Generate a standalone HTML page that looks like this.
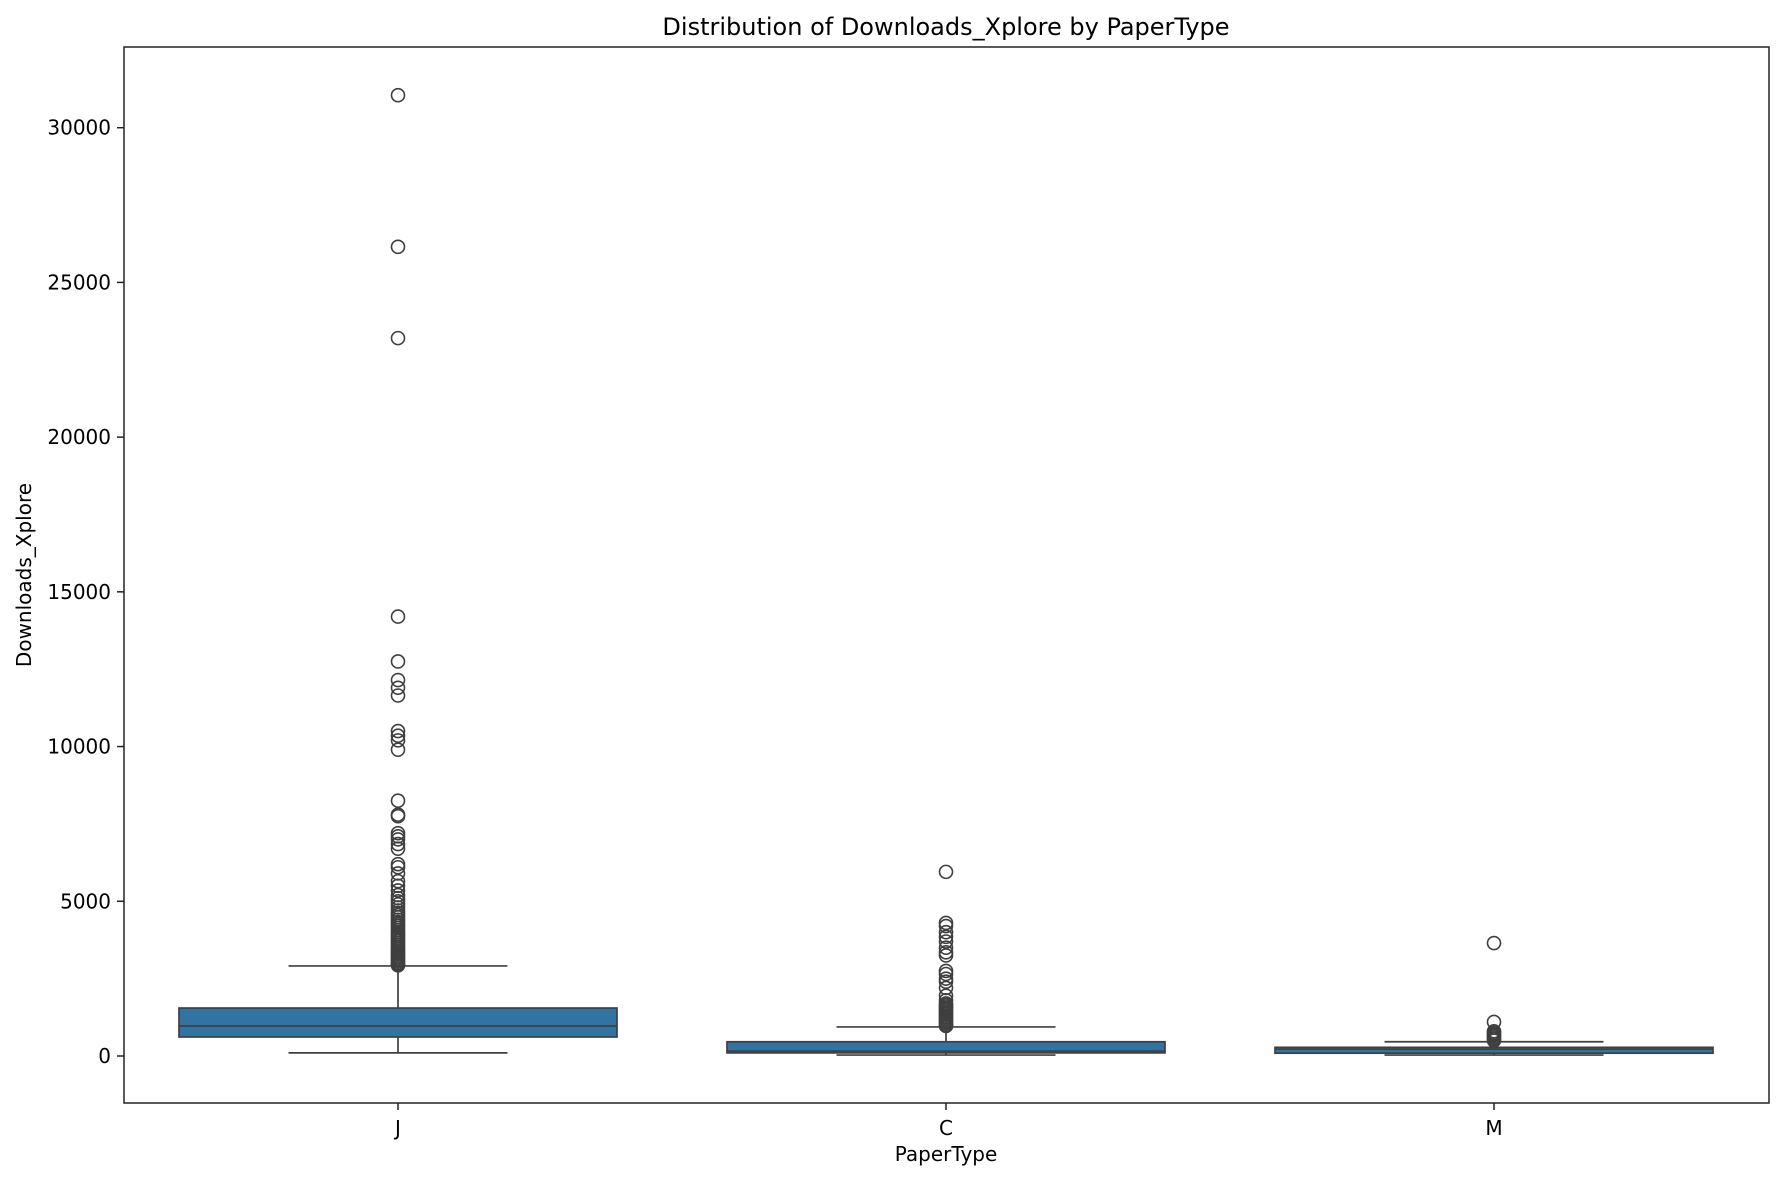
<!DOCTYPE html>
<html><head><meta charset="utf-8"><style>
body{margin:0;background:#fff}
svg text{font-family:"DejaVu Sans","Liberation Sans",sans-serif;fill:#000}
</style></head><body>
<svg id="chart" width="1785" height="1181" xmlns="http://www.w3.org/2000/svg">
<rect width="1785" height="1181" fill="#fff"/>
<text x="946" y="35" font-size="24" text-anchor="middle">Distribution of Downloads_Xplore by PaperType</text>
<text x="946" y="1161" font-size="20" text-anchor="middle">PaperType</text>
<text transform="translate(31,575) rotate(-90)" font-size="20" text-anchor="middle">Downloads_Xplore</text>
<g id="plot"></g>
<rect x="124" y="47" width="1645" height="1056" fill="none" stroke="#222" stroke-width="1.5"/>
</svg>
<script>
const categories=["J","C","M"];
const q1=[614,100,90];
const medians=[970,160,220];
const q3=[1550,460,280];
const whiskLow=[100,30,30];
const whiskHigh=[2910,940,460];
const outliersJ=[31050,26150,23200,14200,12750,12150,11900,11650,10500,10350,10200,9900,8250,7800,7750,7200,7100,7000,6850,6700,6200,6100,5900,5650,5500,5350,5200,5100,5000,4900,4800,4700,4620,4550,4480,4400,4330,4260,4200,4130,4060,4000,3940,3880,3820,3760,3700,3640,3580,3520,3460,3400,3350,3300,3250,3200,3150,3100,3050,3000,2960,2930];
const outliersC=[5950,4300,4200,4000,3850,3700,3500,3350,3250,2750,2650,2500,2400,2200,1950,1800,1700,1650,1600,1550,1500,1450,1400,1350,1300,1250,1200,1150,1100,1050,1000,970];
const outliersM=[3650,1100,800,750,700,650,600,550,500];
const outliers=[outliersJ,outliersC,outliersM];
const yTicks=[0,5000,10000,15000,20000,25000,30000];
const NS="http://www.w3.org/2000/svg";
const g=document.getElementById('plot');
const y=v=>1056-v*(1056-127.7)/30000;
const x=i=>398+i*548;
const bw=438;
function el(t,a){const e=document.createElementNS(NS,t);for(const k in a)e.setAttribute(k,a[k]);g.appendChild(e);return e;}
yTicks.forEach(t=>{
 const l=el('line',{x1:117,x2:124,y1:y(t),y2:y(t),stroke:'#222','stroke-width':1.5});
 
 
 const tx=el('text',{x:111,y:y(t)+7,'font-size':20,'text-anchor':'end'});
 tx.textContent=t;
 
 
});
categories.forEach((c,i)=>{
 const cx=x(i),s='#3f3f3f';
 const l=el('line',{x1:cx,x2:cx,y1:1103,y2:1110,stroke:'#222','stroke-width':1.5});
 
 
 const tx=el('text',{x:cx,y:1135,'font-size':20,'text-anchor':'middle'});
 tx.textContent=c;
 
 
 const w1=el('line',{x1:cx,x2:cx,y1:y(q3[i]),y2:y(whiskHigh[i]),stroke:s,'stroke-width':1.7});
 
 
 const w2=el('line',{x1:cx,x2:cx,y1:y(q1[i]),y2:y(whiskLow[i]),stroke:s,'stroke-width':1.7});
 
 
 [whiskHigh[i],whiskLow[i]].forEach(v=>{
  const cap=el('line',{x1:cx-bw/4,x2:cx+bw/4,y1:y(v),y2:y(v),stroke:s,'stroke-width':1.7});
  
  
 });
 const b=el('rect',{x:cx-bw/2,y:y(q3[i]),width:bw,height:Math.max(1,y(q1[i])-y(q3[i])),fill:'#3274a1',stroke:s,'stroke-width':1.7});
 
 
 const m=el('line',{x1:cx-bw/2,x2:cx+bw/2,y1:y(medians[i]),y2:y(medians[i]),stroke:s,'stroke-width':1.7});
 
 
 outliers[i].forEach(v=>{
  const o=el('circle',{cx:cx,cy:y(v),r:6.5,fill:'none',stroke:s,'stroke-width':1.6});
  
  
 });
});
</script>
</body></html>
